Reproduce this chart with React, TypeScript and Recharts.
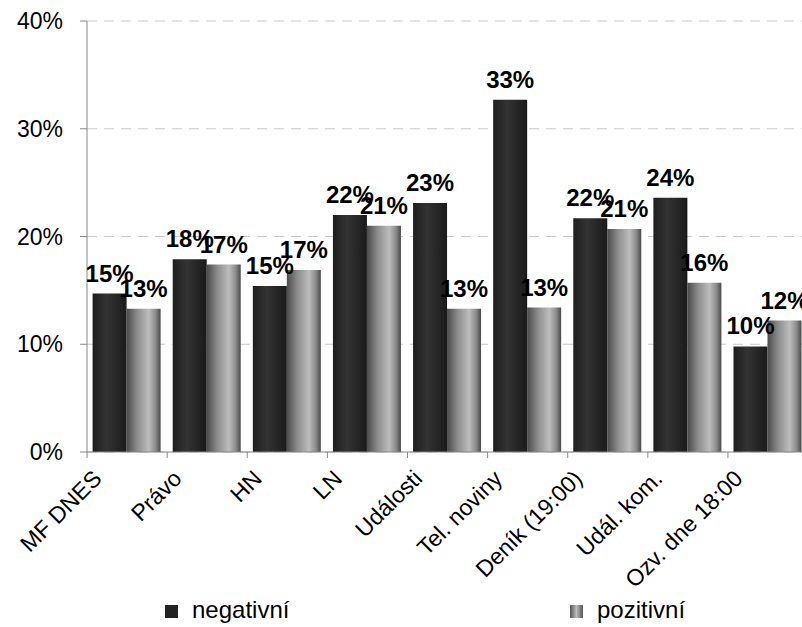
import * as React from "react";
import {
  BarChart,
  Bar,
  XAxis,
  YAxis,
  CartesianGrid,
  Legend,
  LabelList,
} from "recharts";

const categories = [
  "MF DNES",
  "Právo",
  "HN",
  "LN",
  "Události",
  "Tel. noviny",
  "Deník (19:00)",
  "Udál. kom.",
  "Ozv. dne 18:00",
];
const negativni = [14.7, 17.9, 15.4, 22.0, 23.1, 32.7, 21.7, 23.6, 9.8];
const pozitivni = [13.3, 17.4, 16.9, 21.0, 13.3, 13.4, 20.7, 15.7, 12.2];
const yTicks = [0, 10, 20, 30, 40];

const data = categories.map((name, i) => ({
  name,
  negativni: negativni[i],
  pozitivni: pozitivni[i],
}));

const FONT = "'Liberation Sans', Arial, sans-serif";
const pct = (v: any) => `${Math.round(Number(v))}%`;

function XTick(props: any) {
  const { x, y, payload } = props;
  return (
    <g>
      <line x1={x - 40} x2={x - 40} y1={y} y2={y + 6} stroke="#888" />
      <text
        transform={`translate(${x - 24},${y + 28}) rotate(-45)`}
        textAnchor="end"
        fontSize={23}
        fontFamily={FONT}
        fill="#000"
      >
        {payload.value}
      </text>
    </g>
  );
}

function LegendBox() {
  const item = (left: number, label: string, fill: string) => (
    <div
      style={{
        position: "absolute",
        left,
        top: 14,
        display: "flex",
        alignItems: "center",
        fontSize: 24,
        fontFamily: FONT,
        color: "#000",
      }}
    >
      <span
        style={{
          display: "inline-block",
          width: 13,
          height: 13,
          background: fill,
          marginRight: 14,
          marginTop: 3,
        }}
      />
      {label}
    </div>
  );
  return (
    <div style={{ position: "relative", width: 802, height: 45 }}>
      {item(165, "negativní", "#222")}
      {item(570, "pozitivní", "linear-gradient(to right,#555,#bbb,#555)")}
    </div>
  );
}

const labelStyle = {
  fontSize: 24,
  fontWeight: "bold",
  fill: "#000",
  fontFamily: FONT,
};

export default function App() {
  return (
    <div
      style={{
        position: "absolute",
        left: 0,
        top: 0,
        width: 802,
        height: 627,
        overflow: "hidden",
        background: "#fff",
        fontFamily: FONT,
      }}
    >
      <BarChart
        width={808}
        height={627}
        data={data}
        margin={{ top: 21, right: 0, left: 0, bottom: 0 }}
        barCategoryGap="7%"
        barGap={0}
      >
        <defs>
          <linearGradient id="gNeg" x1="0" y1="0" x2="1" y2="0">
            <stop offset="0%" stopColor="#1e1e1e" />
            <stop offset="40%" stopColor="#333" />
            <stop offset="100%" stopColor="#1a1a1a" />
          </linearGradient>
          <linearGradient id="gPoz" x1="0" y1="0" x2="1" y2="0">
            <stop offset="0%" stopColor="#4a4a4a" />
            <stop offset="30%" stopColor="#8a8a8a" />
            <stop offset="65%" stopColor="#bdbdbd" />
            <stop offset="85%" stopColor="#8c8c8c" />
            <stop offset="100%" stopColor="#4a4a4a" />
          </linearGradient>
        </defs>
        <CartesianGrid
          vertical={false}
          stroke="#c8c8c8"
          strokeDasharray="10 7"
        />
        <XAxis
          dataKey="name"
          height={130}
          interval={0}
          tickLine={false}
          tickSize={0}
          tickMargin={0}
          axisLine={{ stroke: "#888" }}
          tick={<XTick />}
        />
        <YAxis
          width={87}
          domain={[0, 40]}
          ticks={yTicks}
          tickFormatter={(v) => `${v}%`}
          tickSize={7}
          tickMargin={17}
          axisLine={{ stroke: "#888" }}
          tickLine={{ stroke: "#888" }}
          tick={{ fontSize: 23, fill: "#000", fontFamily: FONT }}
        />
        <Legend verticalAlign="bottom" height={45} content={<LegendBox />} />
        <Bar dataKey="negativni" fill="url(#gNeg)" isAnimationActive={false}>
          <LabelList
            dataKey="negativni"
            position="top"
            offset={12}
            formatter={pct}
            style={labelStyle}
          />
        </Bar>
        <Bar dataKey="pozitivni" fill="url(#gPoz)" isAnimationActive={false}>
          <LabelList
            dataKey="pozitivni"
            position="top"
            offset={12}
            formatter={pct}
            style={labelStyle}
          />
        </Bar>
      </BarChart>
    </div>
  );
}
